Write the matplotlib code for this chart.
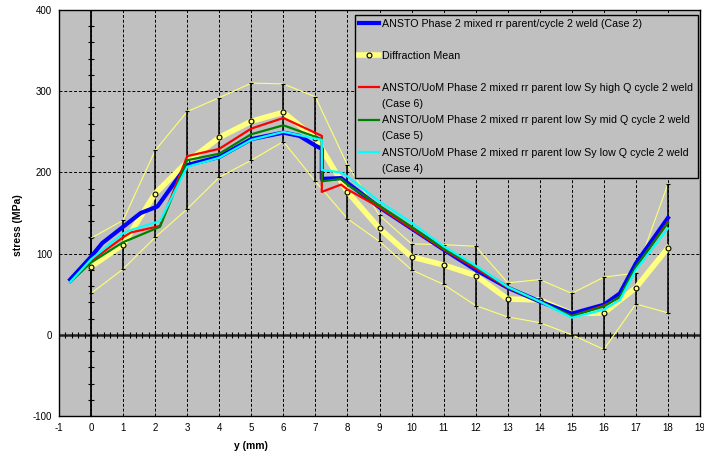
import numpy as np
import matplotlib.pyplot as plt
from matplotlib.lines import Line2D

plt.rcParams['font.family'] = ['Liberation Sans', 'DejaVu Sans']
plt.rcParams['axes.unicode_minus'] = False

# diffraction results (mean with upper / lower bound)
x_diff = list(range(19))
diff_mean = [84, 111, 174, 213, 243, 263, 274, 242, 176, 131, 96, 86, 73, 44, 43, 26, 27, 58, 107]
diff_upper = [119, 141, 227, 275, 292, 310, 309, 293, 209, 147, 112, 111, 109, 64, 68, 51, 71, 76, 186]
diff_lower = [51, 81, 120, 155, 194, 215, 238, 189, 143, 115, 80, 62, 36, 22, 15, 0, -18, 38, 27]

# FE predictions
case2_x = [-0.65, 0, 0.35, 1, 1.55, 2.07, 3, 4, 5, 6, 6.5, 7, 7.2, 7.2, 7.8, 8, 9, 10, 11, 12, 13, 14, 15, 16, 16.5, 17, 18]
case2_y = [68, 96, 113, 133, 150, 158, 209, 219, 241, 249, 245, 233, 229, 192, 193, 187, 157, 131, 105, 80, 58, 41, 26, 37, 51, 88, 144]

case6_x = [-0.65, 0, 1, 1.24, 2.15, 3, 4, 5, 6, 7.2, 7.2, 7.8, 8, 9, 10, 11, 12, 13, 14, 15, 16, 16.5, 17, 18]
case6_y = [65, 91, 120, 126, 134, 220, 229, 254, 267, 245, 176, 185, 179, 157, 131, 105, 82, 58, 41, 23, 36, 46, 83, 139]

case5_x = [-0.65, 0, 1, 2.15, 3, 4, 5, 6, 7.2, 7.2, 7.8, 8, 9, 10, 11, 12, 13, 14, 15, 16, 16.5, 17, 18]
case5_y = [65, 89, 114, 133, 215, 223, 247, 258, 241, 189, 192, 185, 159, 133, 106, 84, 59, 41, 23, 35, 47, 84, 138]

case4_x = [-0.65, 0, 1, 1.24, 2.15, 3, 4, 5, 6, 7.2, 7.2, 7.8, 8, 9, 10, 11, 12, 13, 14, 15, 16, 16.5, 17, 18]
case4_y = [65, 93, 125, 129, 140, 207, 218, 240, 250, 240, 203, 200, 195, 164, 138, 109, 85, 59, 41, 21, 31, 43, 80, 131]

lab_case2 = 'ANSTO Phase 2 mixed rr parent/cycle 2 weld (Case 2)'
lab_diff = 'Diffraction Mean'
lab_case6 = 'ANSTO/UoM Phase 2 mixed rr parent low Sy high Q cycle 2 weld'
lab_case5 = 'ANSTO/UoM Phase 2 mixed rr parent low Sy mid Q cycle 2 weld'
lab_case4 = 'ANSTO/UoM Phase 2 mixed rr parent low Sy low Q cycle 2 weld'

fig = plt.figure(figsize=(7.04, 4.55), dpi=100)
ax = fig.add_axes([59 / 704, 1 - 416 / 455, 641 / 704, 406 / 455])
ax.set_facecolor('#C0C0C0')

ax.set_xlim(-1, 19)
ax.set_ylim(-100, 400)
ax.set_xticks(range(-1, 20))
ax.set_yticks(range(-100, 401, 100))
ax.tick_params(length=0, labelsize=7, pad=5)
ax.grid(True, color='k', lw=0.7, ls=(0, (3, 2)))
ax.set_axisbelow(True)
for s in ax.spines.values():
    s.set_linewidth(1.0)
ax.spines['top'].set_linestyle((0, (3, 1)))

# axes through zero with small ticks
ax.axvline(0, color='k', lw=1.3, zorder=1)
ax.axhline(0, color='#202020', lw=1.8, zorder=1)
xm = np.arange(-1, 19.01, 0.2)
ax.plot(xm, np.zeros_like(xm), ls='none', marker='|', ms=5, mew=0.8, color='k', zorder=1)
ym = np.arange(-100, 401, 20)
ax.plot(np.zeros_like(ym), ym, ls='none', marker='_', ms=5, mew=0.8, color='k', zorder=1)

# diffraction bounds and error bars
ax.plot(x_diff, diff_upper, color='#FFFF70', lw=0.8, zorder=2)
ax.plot(x_diff, diff_lower, color='#FFFF70', lw=0.8, zorder=2)
m = np.array(diff_mean)
ax.errorbar(x_diff, diff_mean, yerr=[m - np.array(diff_lower), np.array(diff_upper) - m],
            fmt='none', ecolor='k', elinewidth=1.1, capsize=1.5, capthick=0.8, zorder=2)
h_diff, = ax.plot(x_diff, diff_mean, color='#FFFF80', lw=4, marker='o', ms=3.5,
                  mfc='#FFFF80', mec='k', mew=0.8, zorder=3)

h2, = ax.plot(case2_x, case2_y, color='#0000FF', lw=3, zorder=4)
h6, = ax.plot(case6_x, case6_y, color='#FF0000', lw=1.6, zorder=5)
h5, = ax.plot(case5_x, case5_y, color='#008000', lw=1.6, zorder=6)
h4, = ax.plot(case4_x, case4_y, color='#00FFFF', lw=1.6, zorder=7)

blank = Line2D([], [], color='none')
handles = [h2, blank, h_diff, blank, h6, blank, h5, blank, h4, blank]
labels = [lab_case2, ' ', lab_diff, ' ', lab_case6, '(Case 6)', lab_case5, '(Case 5)', lab_case4, '(Case 4)']
leg = ax.legend(handles, labels, loc='upper left', bbox_to_anchor=(0.462, 0.586, 0.535, 0.402),
                mode='expand', borderaxespad=0, fontsize=7.7, handlelength=1.9, handletextpad=0.2,
                labelspacing=0.57, borderpad=0.37, fancybox=False, framealpha=1, numpoints=1)
leg.get_frame().set_facecolor('#C0C0C0')
leg.get_frame().set_edgecolor('k')
leg.get_frame().set_linewidth(1.0)
leg.set_zorder(10)

ax.set_xlabel('y (mm)', fontsize=7.5, fontweight='bold')
ax.xaxis.set_label_coords(0.30, -0.062)
ax.set_ylabel('stress (MPa)', fontsize=7.5, fontweight='bold')
ax.yaxis.set_label_coords(-0.056, 0.47)

fig.savefig('out.png', dpi=100)
